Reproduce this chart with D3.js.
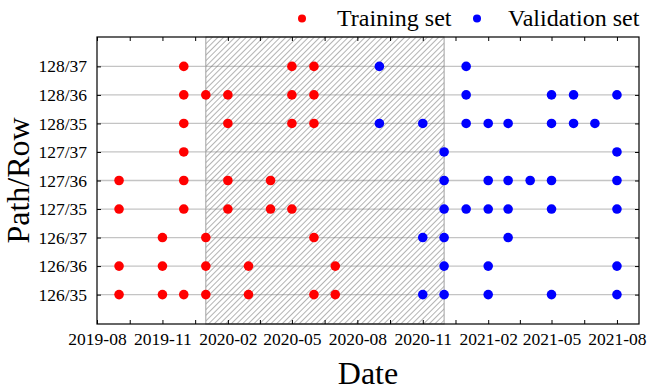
<!DOCTYPE html>
<head>
  <meta charset="UTF-8">
  <script src="https://d3js.org/d3.v7.min.js"></script>
</head>
<body style="margin:0;background:#fff">
  <svg id="chart"></svg>
</body>
<style>
  #chart text { font-family: 'Liberation Serif','Times New Roman',serif; fill: #000; }
</style>
<script type="text/javascript">
  // data
  const rows = ["128/37","128/36","128/35","127/37","127/36","127/35","126/37","126/36","126/35"];
  const trainingSet = [
    ["2019-12","2020-05","2020-06"],
    ["2019-12","2020-01","2020-02","2020-05","2020-06"],
    ["2019-12","2020-02","2020-05","2020-06"],
    ["2019-12"],
    ["2019-09","2019-12","2020-02","2020-04"],
    ["2019-09","2019-12","2020-02","2020-04","2020-05"],
    ["2019-11","2020-01","2020-06"],
    ["2019-09","2019-11","2020-01","2020-03","2020-07"],
    ["2019-09","2019-11","2019-12","2020-01","2020-03","2020-06","2020-07"]
  ];
  const validationSet = [
    ["2020-09","2021-01"],
    ["2021-01","2021-05","2021-06","2021-08"],
    ["2020-09","2020-11","2021-01","2021-02","2021-03","2021-05","2021-06","2021-07"],
    ["2020-12","2021-08"],
    ["2020-12","2021-02","2021-03","2021-04","2021-05","2021-08"],
    ["2020-12","2021-01","2021-02","2021-03","2021-05","2021-08"],
    ["2020-11","2020-12","2021-03"],
    ["2020-12","2021-02","2021-08"],
    ["2020-11","2020-12","2021-02","2021-05","2021-08"]
  ];
  const tickLabels = ["2019-08","2019-11","2020-02","2020-05","2020-08","2020-11","2021-02","2021-05","2021-08"];
  const dateDomain = ["2019-08","2021-09"];
  const hatchPeriod = ["2020-01","2020-12"];

  const width = 650, height = 390;
  const margin = {top: 37, right: 11, bottom: 66, left: 97};
  const serif = "'Liberation Serif','Times New Roman',serif";
  const parse = d3.timeParse("%Y-%m");

  const svg = d3.select('#chart').attr('width', width).attr('height', height);

  const x = d3.scaleTime()
    .domain(dateDomain.map(parse))
    .range([margin.left, width - margin.right]);
  const y = d3.scalePoint()
    .domain(rows)
    .range([margin.top, height - margin.bottom])
    .padding(1.03);

  const defs = svg.append('defs');
  const pat = defs.append('pattern')
    .attr('id', 'hatch')
    .attr('patternUnits', 'userSpaceOnUse')
    .attr('width', 4).attr('height', 4)
    .attr('patternTransform', 'rotate(45)');
  pat.append('line')
    .attr('x1', 0).attr('y1', 0).attr('x2', 0).attr('y2', 4)
    .attr('stroke', '#686868').attr('stroke-width', 1);

  const plot = svg.append('g');

  // grid lines
  plot.append('g')
    .selectAll('line')
    .data(rows)
    .join('line')
    .attr('x1', margin.left).attr('x2', width - margin.right)
    .attr('y1', d => y(d)).attr('y2', d => y(d))
    .attr('stroke', '#c4c4c4').attr('stroke-width', 1.3);

  // hatched period
  plot.append('rect')
    .attr('x', x(parse(hatchPeriod[0])))
    .attr('y', margin.top)
    .attr('width', x(parse(hatchPeriod[1])) - x(parse(hatchPeriod[0])))
    .attr('height', height - margin.bottom - margin.top)
    .attr('fill', 'url(#hatch)')
    .attr('stroke', '#a0a0a0').attr('stroke-width', 1);

  // axes
  const majorTicks = tickLabels.map(parse);
  const minorTicks = d3.pairs(majorTicks).map(([a, b]) => new Date((+a + +b) / 2));
  const allTicks = majorTicks.concat(minorTicks);
  const bottomY = height - margin.bottom;

  const xAxis = svg.append('g')
    .attr('transform', `translate(0,${bottomY})`)
    .call(d3.axisBottom(x).tickValues(majorTicks).tickFormat(d3.timeFormat("%Y-%m"))
      .tickSizeInner(-4).tickSizeOuter(0).tickPadding(9));
  svg.append('g')
    .attr('transform', `translate(0,${bottomY})`)
    .call(d3.axisBottom(x).tickValues(minorTicks).tickFormat('').tickSizeInner(-4).tickSizeOuter(0));

  svg.append('g')
    .attr('transform', `translate(0,${margin.top})`)
    .call(d3.axisTop(x).tickValues(allTicks).tickFormat('').tickSizeInner(-4).tickSizeOuter(0));

  const yAxis = svg.append('g')
    .attr('transform', `translate(${margin.left},0)`)
    .call(d3.axisLeft(y).tickSizeInner(-4).tickSizeOuter(0).tickPadding(10));

  svg.append('g')
    .attr('transform', `translate(${width - margin.right},0)`)
    .call(d3.axisRight(y).tickSizeInner(-4).tickSizeOuter(0).tickFormat(''));

  [xAxis, yAxis].forEach(a => {
    a.attr('font-family', serif).attr('font-size', 17.5);
    a.selectAll('text').style('font-family', serif).attr('font-size', '17.5px');
  });

  svg.selectAll('.domain').remove();
  svg.selectAll('.tick line').attr('stroke', '#000').attr('stroke-width', 1);

  // frame
  svg.append('rect')
    .attr('x', margin.left).attr('y', margin.top)
    .attr('width', width - margin.left - margin.right)
    .attr('height', height - margin.top - margin.bottom)
    .attr('fill', 'none').attr('stroke', '#000').attr('stroke-width', 1.2);

  // points
  const pts = [];
  rows.forEach((r, i) => {
    trainingSet[i].forEach(d => pts.push({row: r, date: parse(d), color: '#ff0000'}));
    validationSet[i].forEach(d => pts.push({row: r, date: parse(d), color: '#0000ff'}));
  });
  svg.append('g')
    .selectAll('circle')
    .data(pts)
    .join('circle')
    .attr('cx', d => x(d.date))
    .attr('cy', d => y(d.row))
    .attr('r', 4.8)
    .attr('fill', d => d.color);

  // titles
  svg.append('text')
    .attr('x', (margin.left + width - margin.right) / 2)
    .attr('y', 384)
    .attr('text-anchor', 'middle')
    .attr('font-size', '32px')
    .text('Date');
  svg.append('text')
    .attr('transform', `translate(29,${(margin.top + height - margin.bottom) / 2}) rotate(-90)`)
    .attr('text-anchor', 'middle')
    .attr('font-size', '32px')
    .text('Path/Row');

  // legend
  const legendItems = [
    {label: 'Training set', color: '#ff0000', cx: 302, tx: 337},
    {label: 'Validation set', color: '#0000ff', cx: 477, tx: 508}
  ];
  const lg = svg.append('g').selectAll('g').data(legendItems).join('g');
  lg.append('circle').attr('cx', d => d.cx).attr('cy', 18.5).attr('r', 4).attr('fill', d => d.color);
  lg.append('text').attr('x', d => d.tx).attr('y', 26).attr('font-size', '24px').text(d => d.label);
</script>
